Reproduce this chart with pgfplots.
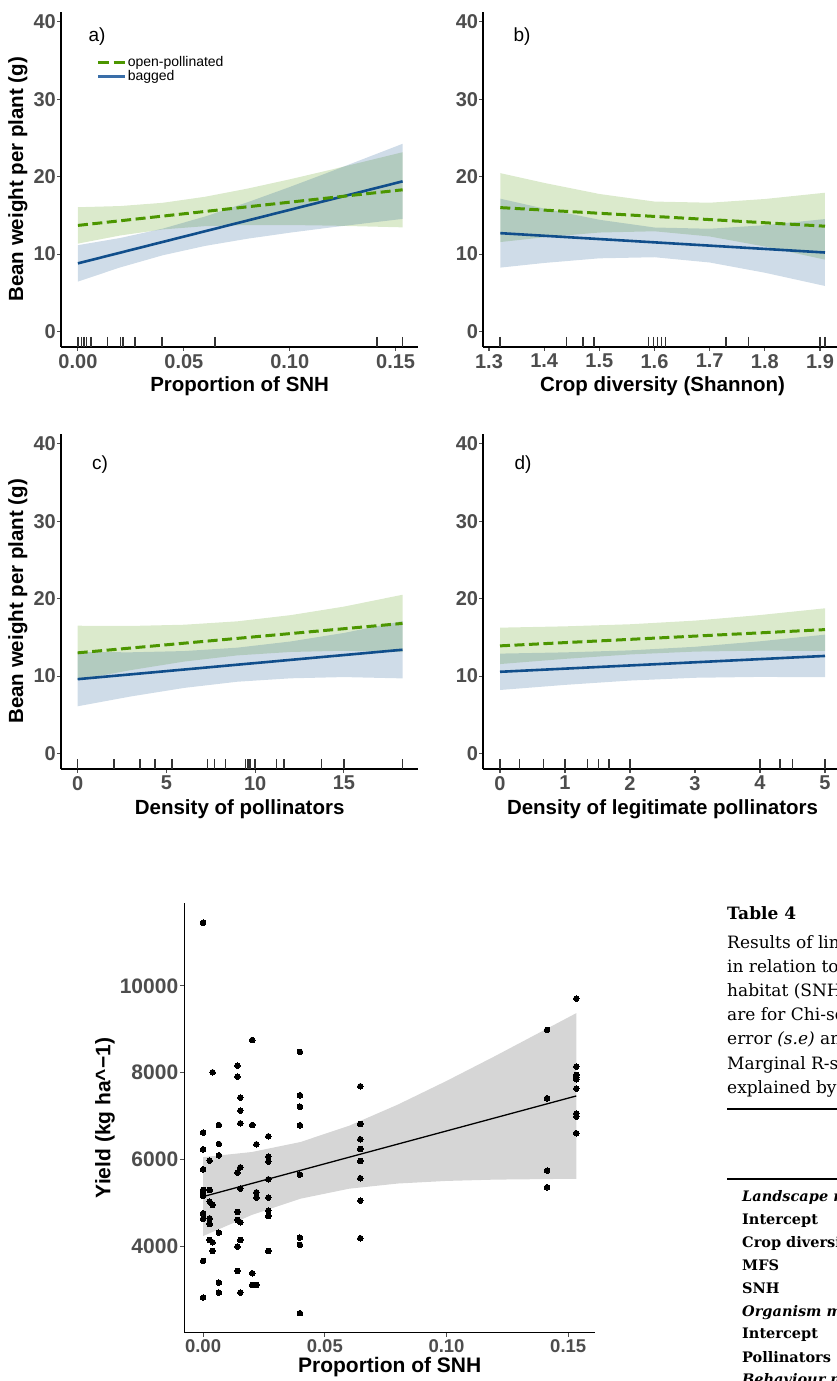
\documentclass[border=0pt]{standalone}
\usepackage{fontspec}
\setmainfont{Liberation Sans}
\newfontfamily\tabfont{DejaVu Serif}
\usepackage{pgfplots}
\pgfplotsset{compat=1.18}

\definecolor{gline}{RGB}{76,150,0}
\definecolor{bline}{RGB}{16,78,139}
\definecolor{bkey}{RGB}{58,110,168}
\definecolor{tickgray}{RGB}{77,77,77}
\definecolor{ribgray}{RGB}{214,214,214}
\definecolor{rugcol}{RGB}{51,51,51}

\pgfplotsset{
  ggbase/.style={
    scale only axis,
    axis x line*=bottom, axis y line*=left,
    axis line style={-, black},
    tick align=outside, major tick length=4pt,
    tick style={tickgray, line width=1.1pt},
    scaled ticks=false,
    xticklabel style={anchor=north, inner sep=0pt, yshift=-3pt},
    yticklabel style={anchor=east, inner sep=0pt, xshift=-1pt},
    ticklabel style={text=tickgray, font=\bfseries\fontsize{20}{20}\selectfont},
    label style={font=\bfseries\fontsize{20.5}{20.5}\selectfont},
  },
  bean/.style={ggbase, height=335.3pt, ymin=-2, ymax=41.3,
    axis line style={line width=2pt},
    ytick={0,10,20,30,40}, yticklabels={0,10,20,30,40}},
  gband/.style={fill=gline, fill opacity=0.2, draw=none},
  bband/.style={fill=bline, fill opacity=0.2, draw=none},
  gfit/.style={gline, line width=3pt, dash pattern=on 10pt off 4.5pt},
  bfit/.style={bline, line width=2.6pt},
  rugs/.style={only marks, mark=|, mark size=5pt, mark options={rugcol, line width=1.6pt}},
}

\begin{document}
\begin{tikzpicture}

% a) proportion of SNH
\begin{axis}[bean, at={(61pt,1034pt)}, anchor=south west, width=357.3pt,
  xmin=-0.0080, xmax=0.1607,
  xtick={0,0.05,0.10,0.15}, xticklabels={0.00,0.05,0.10,0.15},
  xlabel={Proportion of SNH}, ylabel={Bean weight per plant (g)},
  xlabel style={at={(axis description cs:0.5,-0.1163)}, anchor=center},
  ylabel style={at={(axis description cs:-0.1204,0.5)}, anchor=center},
  legend cell align=left,
  legend style={at={(axis description cs:0.0994,0.868)}, anchor=north west,
    draw=none, fill=none, inner sep=0pt, row sep=1pt, column sep=0.5pt,
    font=\fontsize{14}{14}\selectfont, nodes={inner sep=0.6pt, text=black}},
  legend image code/.code={\draw[#1] (0pt,0pt) -- (27pt,0pt);}]
\addlegendimage{gline, line width=3pt, dash pattern=on 11pt off 4.5pt}
\addlegendentry{open-pollinated}
\addlegendimage{bkey, line width=3pt}
\addlegendentry{bagged}
\addplot[gband, forget plot] coordinates {(0,16.05) (0.02,16.20) (0.04,16.62) (0.06,17.40) (0.08,18.45) (0.10,19.65) (0.12,20.93) (0.1533,23.15)
  (0.1533,13.45) (0.12,13.67) (0.10,13.75) (0.08,13.75) (0.06,13.60) (0.04,13.18) (0.02,12.40) (0,11.35)};
\addplot[bband, forget plot] coordinates {(0,11.15) (0.02,12.08) (0.04,13.28) (0.06,14.85) (0.08,16.68) (0.10,18.66) (0.12,20.72) (0.1533,24.24)
  (0.1533,14.54) (0.12,13.46) (0.10,12.76) (0.08,11.98) (0.06,11.05) (0.04,9.84) (0.02,8.28) (0,6.45)};
\addplot[bfit, forget plot] coordinates {(0,8.8) (0.1533,19.39)};
\addplot[gfit, forget plot] coordinates {(0,13.7) (0.1533,18.3)};
\addplot[rugs, forget plot] coordinates {(0,-1.33) (0.0017,-1.33) (0.003,-1.33) (0.0041,-1.33) (0.0061,-1.33) (0.014,-1.33) (0.0201,-1.33) (0.0214,-1.33) (0.0269,-1.33) (0.0398,-1.33) (0.0647,-1.33) (0.1413,-1.33) (0.1533,-1.33)};
\end{axis}

% b) crop diversity
\begin{axis}[bean, at={(483.3pt,1034pt)}, anchor=south west, width=358.4pt,
  xmin=1.2897, xmax=1.9393,
  xtick={1.3,1.4,1.5,1.6,1.7,1.8,1.9}, xticklabels={1.3,1.4,1.5,1.6,1.7,1.8,1.9},
  xlabel={Crop diversity (Shannon)},
  xlabel style={at={(axis description cs:0.5,-0.1163)}, anchor=center}]
\addplot[gband] coordinates {(1.3205,20.45) (1.40,19.19) (1.50,17.76) (1.60,16.78) (1.70,16.63) (1.80,17.11) (1.909,17.92)
  (1.909,9.28) (1.80,10.97) (1.70,12.27) (1.60,12.94) (1.50,12.78) (1.40,12.17) (1.3205,11.55)};
\addplot[bband] coordinates {(1.3205,17.15) (1.40,15.87) (1.50,14.43) (1.60,13.43) (1.70,13.27) (1.80,13.73) (1.909,14.52)
  (1.909,5.88) (1.80,7.59) (1.70,8.91) (1.60,9.59) (1.50,9.45) (1.40,8.85) (1.3205,8.25)};
\addplot[bfit] coordinates {(1.3205,12.7) (1.909,10.2)};
\addplot[gfit] coordinates {(1.3205,16.0) (1.909,13.6)};
\addplot[rugs] coordinates {(1.3205,-1.33) (1.4408,-1.33) (1.4704,-1.33) (1.4903,-1.33) (1.5894,-1.33) (1.5979,-1.33) (1.6051,-1.33) (1.6124,-1.33) (1.6202,-1.33) (1.7296,-1.33) (1.7701,-1.33) (1.9,-1.33) (1.909,-1.33)};
\end{axis}

% c) density of pollinators
\begin{axis}[bean, at={(61pt,612pt)}, anchor=south west, width=357.3pt,
  xmin=-0.94, xmax=19.19,
  xtick={0,5,10,15}, xticklabels={0,5,10,15},
  xlabel={Density of pollinators}, ylabel={Bean weight per plant (g)},
  xlabel style={at={(axis description cs:0.5,-0.1214)}, anchor=center},
  ylabel style={at={(axis description cs:-0.1204,0.5)}, anchor=center}]
\addplot[gband] coordinates {(0,16.50) (3,16.47) (6,16.63) (9,17.07) (12,17.87) (15,18.97) (18.3,20.50)
  (18.3,13.10) (15,13.27) (12,13.11) (9,12.67) (6,11.87) (3,10.77) (0,9.50)};
\addplot[bband] coordinates {(0,13.10) (3,13.07) (6,13.23) (9,13.67) (12,14.47) (15,15.57) (18.3,17.10)
  (18.3,9.70) (15,9.87) (12,9.71) (9,9.27) (6,8.47) (3,7.37) (0,6.10)};
\addplot[bfit] coordinates {(0,9.6) (18.3,13.4)};
\addplot[gfit] coordinates {(0,13.0) (18.3,16.8)};
\addplot[rugs] coordinates {(0,-1.38) (2.05,-1.38) (3.51,-1.38) (4.37,-1.38) (5.31,-1.38) (7.32,-1.38) (7.70,-1.38) (8.33,-1.38) (9.46,-1.38) (9.61,-1.38) (9.70,-1.38) (9.99,-1.38) (11.21,-1.38) (11.64,-1.38) (13.74,-1.38) (15.0,-1.38) (18.3,-1.38)};
\end{axis}

% d) density of legitimate pollinators
\begin{axis}[bean, at={(483.3pt,612pt)}, anchor=south west, width=358.4pt,
  xmin=-0.257, xmax=5.257,
  xtick={0,1,2,3,4,5}, xticklabels={0,1,2,3,4,5},
  xlabel={Density of legitimate pollinators},
  xlabel style={at={(axis description cs:0.5,-0.1214)}, anchor=center}]
\addplot[gband] coordinates {(0,16.25) (1,16.42) (2,16.69) (3,17.16) (4,17.88) (5,18.75)
  (5,13.25) (4,13.28) (3,13.16) (2,12.79) (1,12.22) (0,11.55)};
\addplot[bband] coordinates {(0,12.90) (1,13.06) (2,13.32) (3,13.78) (4,14.49) (5,15.35)
  (5,9.85) (4,9.89) (3,9.78) (2,9.42) (1,8.86) (0,8.20)};
\addplot[bfit] coordinates {(0,10.55) (5,12.6)};
\addplot[gfit] coordinates {(0,13.9) (5,16.0)};
\addplot[rugs] coordinates {(0,-1.38) (0.297,-1.38) (0.667,-1.38) (1.0,-1.38) (1.344,-1.38) (1.513,-1.38) (1.677,-1.38) (2.0,-1.38) (4.0,-1.38) (4.308,-1.38) (4.497,-1.38) (5.0,-1.38)};
\end{axis}

% yield vs SNH
\begin{axis}[ggbase, at={(184.4pt,48.3pt)}, anchor=south west,
  width=410.6pt, height=429.5pt,
  xmin=-0.00767, xmax=0.1610, ymin=2019, ymax=11901,
  axis line style={line width=1.1pt},
  xtick={0,0.05,0.10,0.15}, xticklabels={0.00,0.05,0.10,0.15},
  ytick={4000,6000,8000,10000}, yticklabels={4000,6000,8000,10000},
  xticklabel style={font=\bfseries\fontsize{18.5}{18.5}\selectfont},
  yticklabel style={font=\bfseries\fontsize{21}{21}\selectfont, xshift=-1pt},
  label style={font=\bfseries\fontsize{21}{21}\selectfont},
  xlabel={Proportion of SNH}, ylabel={Yield (kg ha\^{}−1)},
  xlabel style={at={(axis description cs:0.5,-0.0800)}, anchor=center},
  ylabel style={at={(axis description cs:-0.1934,0.5)}, anchor=center}]
\addplot[fill=ribgray, draw=none] coordinates {(0,6058) (0.02,6176) (0.04,6406) (0.06,6780) (0.08,7267) (0.10,7811) (0.12,8385) (0.1533,9371)
  (0.1533,5561) (0.12,5541) (0.10,5511) (0.08,5451) (0.06,5332) (0.04,5102) (0.02,4728) (0,4242)};
\addplot[black, line width=1.3pt] coordinates {(0,5150) (0.1533,7466)};
\addplot[only marks, mark=*, mark size=2.8pt, mark options={fill=black, draw=black, line width=0pt}] table {
x y
0 11452
0 6622
0 6239
0 5779
0 5303
0 5242
0 5165
0 4767
0 4636
0 3670
0 2827
0.0027 5978
0.0027 5303
0.0027 5035
0.0027 4652
0.0027 4521
0.0027 4153
0.0039 8010
0.0039 4958
0.0039 4100
0.0039 3900
0.0065 6798
0.0065 6361
0.0065 6101
0.0065 4322
0.0065 3172
0.0065 2942
0.0141 8163
0.0141 7910
0.0141 5702
0.0141 4797
0.0141 4613
0.0141 4000
0.0141 3440
0.0153 7427
0.0153 7128
0.0153 6837
0.0153 5825
0.0153 5334
0.0153 4560
0.0153 4153
0.0153 2942
0.0202 8753
0.0202 6798
0.0202 3387
0.0202 3118
0.0219 6354
0.0219 5250
0.0219 5127
0.0219 3118
0.0268 6538
0.0268 6070
0.0268 5955
0.0268 5549
0.0268 5127
0.0268 4828
0.0268 4705
0.0268 3900
0.0398 8478
0.0398 7482
0.0398 7220
0.0398 6792
0.0398 5656
0.0398 4207
0.0398 4039
0.0398 2468
0.0646 7689
0.0646 6822
0.0646 6470
0.0646 6247
0.0646 5971
0.0646 5573
0.0646 5058
0.0646 4193
0.1413 8984
0.1413 7413
0.1413 5748
0.1413 5366
0.1533 9704
0.1533 8140
0.1533 7949
0.1533 7896
0.1533 7850
0.1533 7634
0.1533 7059
0.1533 6990
0.1533 6608
};
\end{axis}

% panel letters
\node[font=\fontsize{19}{19}\selectfont] at (97pt,1344pt) {a)};
\node[font=\fontsize{19}{19}\selectfont] at (522pt,1344pt) {b)};
\node[font=\fontsize{19}{19}\selectfont] at (100pt,916pt) {c)};
\node[font=\fontsize{19}{19}\selectfont] at (523pt,916pt) {d)};

% table caption cut at the right edge
\begin{scope}[every node/.style={anchor=base west, inner sep=0pt, font=\tabfont\fontsize{17}{17}\selectfont}]
\node at (727pt,461pt) {\bfseries Table 4};
\node at (727pt,432pt) {Results of linear mixed};
\node at (727pt,408pt) {in relation to semi-natural};
\node at (727pt,384pt) {habitat (SNH) and};
\node at (727pt,360pt) {are for Chi-square};
\node at (727pt,336pt) {error \textit{(s.e)} and};
\node at (727pt,311pt) {Marginal R-squared};
\node at (727pt,287pt) {explained by the};
\end{scope}
\draw[line width=1.8pt] (727pt,272pt) -- (840pt,272pt);
\draw[line width=1.8pt] (727pt,202pt) -- (840pt,202pt);
\begin{scope}[every node/.style={anchor=base west, inner sep=0pt, font=\tabfont\bfseries\fontsize{14.5}{14.5}\selectfont}]
\node at (742pt,179pt) {\itshape Landscape model};
\node at (742pt,156pt) {Intercept};
\node at (742pt,133pt) {Crop diversity};
\node at (742pt,110pt) {MFS};
\node at (742pt,87pt) {SNH};
\node at (742pt,64.5pt) {\itshape Organism model};
\node at (742pt,42pt) {Intercept};
\node at (742pt,19pt) {Pollinators};
\node at (742pt,-4pt) {\itshape Behaviour model};
\end{scope}
\pgfresetboundingbox
\useasboundingbox (0,0) rectangle (837pt,1381pt);
\end{tikzpicture}
\end{document}
